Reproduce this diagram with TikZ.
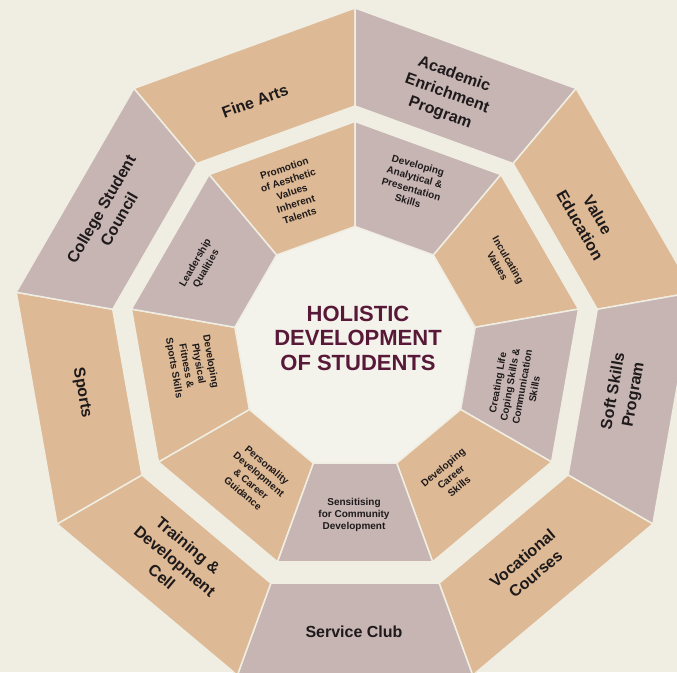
\documentclass[tikz,border=0pt]{standalone}
\usepackage{fontspec}
\setmainfont{Liberation Sans}
\usetikzlibrary{calc}
\definecolor{bgc}{HTML}{F0EEE3}
\definecolor{centerc}{HTML}{F4F3EB}
\definecolor{tanc}{HTML}{DDB995}
\definecolor{mauvec}{HTML}{C7B5B3}
\definecolor{maroon}{HTML}{581838}
\definecolor{ink}{HTML}{1E1A1B}
\begin{document}
\begin{tikzpicture}[x=1pt,y=1pt,
  seg/.style={fill=#1, draw=bgc, line width=1.5pt, line join=miter},
  olab/.style={font=\bfseries\fontsize{16}{20.5}\selectfont, text=ink, align=center, inner sep=0pt},
  ilab/.style={font=\bfseries\fontsize{10}{12.4}\selectfont, text=ink, align=center, inner sep=0pt},
  clab/.style={font=\bfseries\fontsize{22}{24.5}\selectfont, text=maroon, align=center, inner sep=0pt}]
\fill[bgc] (0,0) rectangle (677,672);
\useasboundingbox (0,0) rectangle (677,672);
\coordinate (O1) at (355,320);
\coordinate (O2) at (355,323.5);
\begin{scope}
\clip (0,0) rectangle (677,672);
% outer ring
\foreach \c/\col in {110/tanc,70/mauvec,30/tanc,350/mauvec,310/tanc,270/mauvec,230/tanc,190/tanc,150/mauvec}{
  \path[seg=\col] ($(O1)+({\c-20}:344)$) -- ($(O1)+({\c+20}:344)$) -- ($(O1)+({\c+20}:246)$) -- ($(O1)+({\c-20}:246)$) -- cycle;
}
% centre
\fill[centerc] ($(O2)+(90:122)$) \foreach \k in {1,...,8}{ -- ($(O2)+({90+40*\k}:122)$)} -- cycle;
% inner ring
\foreach \c/\col in {110/tanc,70/mauvec,30/tanc,350/mauvec,310/tanc,270/mauvec,230/tanc,190/tanc,150/mauvec}{
  \path[seg=\col] ($(O2)+({\c-20}:227)$) -- ($(O2)+({\c+20}:227)$) -- ($(O2)+({\c+20}:122)$) -- ($(O2)+({\c-20}:122)$) -- cycle;
}
\end{scope}
% outer labels
\node[olab, rotate=20]  (fine) at (255,571) {Fine Arts};
\node[olab, rotate=-20] (acad) at (447,578) {Academic\\Enrichment\\Program};
\node[olab, rotate=-60] (vale) at (589,452) {Value\\Education};
\node[olab, rotate=80]  (soft) at (624,279) {Soft Skills\\Program};
\node[olab, rotate=40]  (voca) at (529,106) {Vocational\\Courses};
\node[olab]             (serv) at (354,40)  {Service Club};
\node[olab, rotate=-40] (trai) at (175,111) {Training \&\\Development\\Cell};
\node[olab, rotate=-80] (spor) at (82,279)  {Sports};
\node[olab, rotate=60]  (coll) at (110,458) {College Student\\Council};
% inner labels
\node[ilab, rotate=18]  (prom) at (292,480) {Promotion\\of Aesthetic\\Values\\Inherent\\Talents};
\node[ilab, rotate=-16] (anal) at (413,489) {Developing\\Analytical \&\\Presentation\\Skills};
\node[ilab, rotate=-60] (incu) at (503,409) {Inculcating\\Values};
\node[ilab, rotate=80]  (crea) at (516,286) {Creating Life\\Coping Skills \&\\Communication\\Skills};
\node[ilab, rotate=40]  (care) at (451,195) {Developing\\Career\\Skills};
\node[ilab]             (sens) at (354,157) {Sensitising\\for Community\\Development};
\node[ilab, rotate=-40] (pers) at (255,193) {Personality\\Development\\\& Career\\Guidance};
\node[ilab, rotate=-80] (phys) at (192,307) {Developing\\Physical\\Fitness \&\\Sports Skills};
\node[ilab, rotate=60]  (lead) at (201,406) {Leadership\\Qualities};
% centre
\node[clab] (holi) at (358,334) {HOLISTIC\\DEVELOPMENT\\OF STUDENTS};
\end{tikzpicture}
\end{document}
